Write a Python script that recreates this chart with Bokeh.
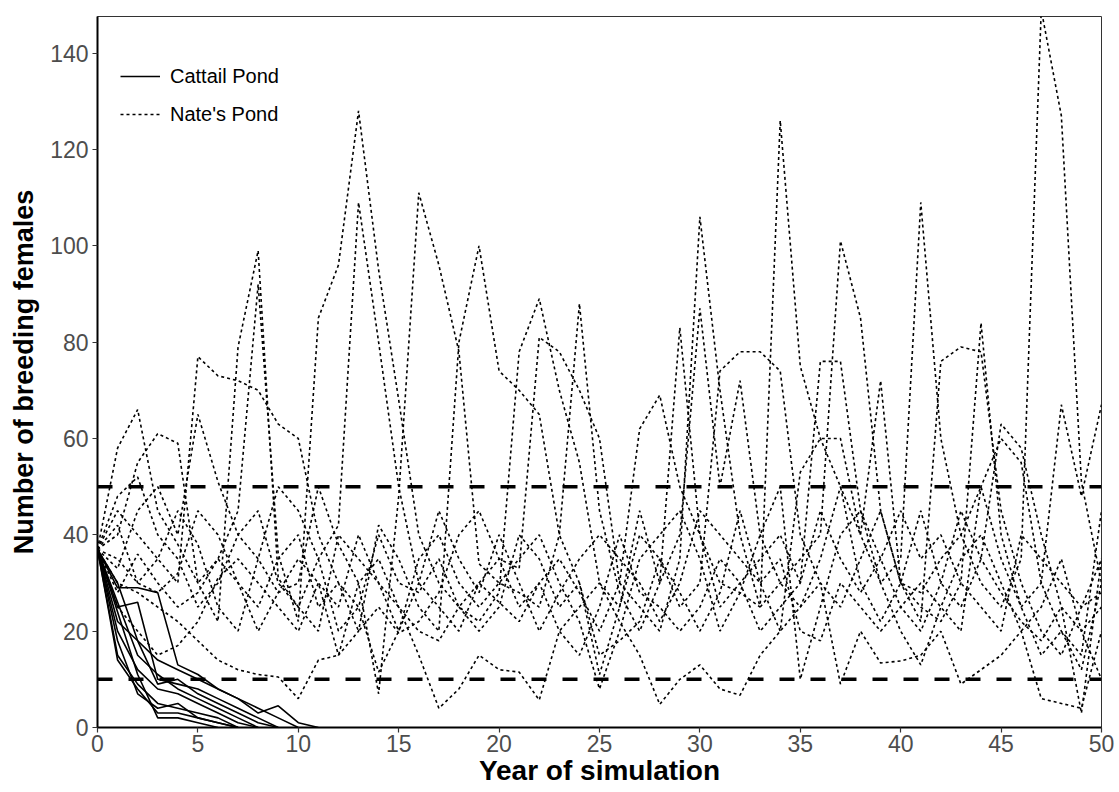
from bokeh.plotting import figure
from bokeh.models import ColumnDataSource, Legend, LegendItem, Span, FixedTicker, Range1d
from bokeh.embed import file_html
from bokeh.resources import INLINE

# ---------------- data ----------------
years = list(range(51))

# Cattail Pond runs (decline to extinction)
C1 = [37, 29, 29, 28, 13, 11, 8, 6, 4, 2, 0]
C2 = [37, 25, 26, 10, 9, 8, 6, 4, 2, 0]
C3 = [37, 30, 18, 14, 12, 10, 8, 6, 3, 4.5, 1, 0]
C4 = [37, 22, 18, 9, 10, 7, 5, 3, 1, 0]
C5 = [37, 15, 9, 5, 4, 3, 2, 0]
C6 = [37, 14, 8, 3, 3, 2, 1, 0]
C7 = [37, 20, 12, 8, 7, 5, 3, 1, 0]
C8 = [37, 24, 11, 2, 2, 1, 0]
C9 = [37, 18, 7, 4, 5, 2, 1, 0]
C10 = [37, 26, 15, 11, 8, 6, 4, 2, 0]

# Nate's Pond runs
N1 = [37, 45, 40, 35, 30, 77, 73, 72, 70, 63, 60, 40, 30, 25, 40, 30, 28, 35, 25, 22,
      28, 78, 89, 70, 55, 30, 25, 40, 35, 25, 30, 74, 78, 78, 74, 40, 30, 25, 35, 45,
      30, 22, 76, 79, 78, 45, 30, 20, 15, 25, 35]
N2 = [37, 58, 66, 45, 38, 30, 22, 79, 99, 31, 25, 35, 42, 109, 80, 50, 30, 25, 20, 30,
      35, 33, 81, 78, 70, 60, 30, 25, 20, 35, 106, 70, 40, 25, 30, 35, 40, 101, 85, 45,
      30, 25, 22, 30, 84, 40, 25, 15, 20, 12, 30]
N3 = [37, 40, 55, 61, 59, 30, 35, 45, 92, 36, 22, 85, 96, 128, 95, 68, 40, 30, 25, 30,
      26, 22, 30, 35, 28, 20, 30, 62, 69, 50, 40, 30, 28, 25, 126, 75, 60, 50, 30, 22,
      30, 45, 30, 25, 35, 63, 58, 40, 25, 20, 25]
N4 = [37, 33, 45, 50, 40, 65, 51, 40, 35, 28, 30, 50, 38, 30, 7, 48, 111, 96, 78, 34,
      30, 28, 25, 40, 88, 45, 28, 20, 30, 83, 40, 25, 30, 35, 40, 30, 76, 76, 45, 30,
      35, 109, 60, 40, 30, 25, 35, 149, 127, 51, 30]
N5 = [37, 25, 20, 15, 17, 22, 31, 35, 30, 25, 20, 30, 15, 20, 42, 35, 25, 20, 80, 100,
      74, 70, 65, 40, 30, 11, 25, 45, 30, 40, 87, 50, 72, 40, 30, 25, 35, 50, 40, 72,
      30, 28, 35, 40, 50, 35, 25, 30, 67, 48, 67]
N6 = [37, 30, 28, 25, 22, 18, 14, 12, 11, 10.5, 6, 14, 15, 30, 35, 25, 15, 4, 8, 15,
      12, 11.5, 5.7, 20, 25, 30, 22, 15, 4.8, 10, 13, 8, 6.7, 15, 20, 25, 30, 9, 20, 13.4,
      13.8, 15, 20, 9, 12, 15, 20, 6, 5, 4, 20]
N7 = [37, 48, 52, 40, 35, 25, 30, 40, 45, 30, 25, 20, 40, 35, 30, 20, 35, 40, 30, 25,
      30, 35, 40, 30, 22, 8, 20, 35, 40, 45, 35, 20, 28, 40, 50, 10, 25, 40, 45, 35,
      25, 30, 25, 20, 50, 60, 55, 30, 20, 15, 45]
N8 = [37, 42, 30, 35, 45, 38, 25, 20, 35, 50, 45, 35, 20, 25, 11.5, 20, 30, 45, 35, 28,
      40, 30, 20, 28, 35, 40, 35, 30, 22, 30, 45, 40, 35, 30, 20, 53, 60, 60, 40, 30,
      20, 13, 25, 35, 40, 30, 20, 25, 35, 20, 10]
N9 = [37, 35, 30, 28, 32, 45, 40, 30, 25, 35, 40, 25, 30, 20, 25, 19.6, 22, 28, 40, 45,
      35, 25, 30, 20, 15, 25, 40, 28, 25, 20, 25, 35, 30, 20, 25, 30, 45, 35, 28, 35,
      45, 35, 40, 30, 25, 20, 40, 35, 30, 25, 28]
N10 = [37, 28, 36, 30, 25, 28, 35, 30, 20, 28, 35, 30, 25, 40, 30, 25, 20, 18, 25, 20,
       25, 40, 35, 25, 30, 15, 18, 22, 35, 28, 20, 28, 45, 30, 35, 20, 18, 30, 25, 20,
       25, 20, 30, 45, 35, 28, 22, 18, 25, 3, 35]

cattail_runs = [C1, C2, C3, C4, C5, C6, C7, C8, C9, C10]
nate_runs = [N1, N2, N3, N4, N5, N6, N7, N8, N9, N10]
thresholds = [10, 50]
x_ticks = [0, 5, 10, 15, 20, 25, 30, 35, 40, 45, 50]
y_ticks = [0, 20, 40, 60, 80, 100, 120, 140]

# ---------------- figure ----------------
FONT = "Liberation Sans"
p = figure(width=1119, height=792, output_backend="svg", toolbar_location=None,
           x_range=Range1d(0, 50), y_range=Range1d(0, 147.6),
           min_border_left=97, min_border_right=18, min_border_top=16, min_border_bottom=65)
p.xgrid.visible = False
p.ygrid.visible = False
p.outline_line_color = "#333333"
p.outline_line_width = 1
p.background_fill_color = "white"
p.border_fill_color = "white"

cat_src = ColumnDataSource(dict(xs=[years[:len(r)] for r in cattail_runs], ys=cattail_runs))
nat_src = ColumnDataSource(dict(xs=[years[:len(r)] for r in nate_runs], ys=nate_runs))

r_nat = p.multi_line("xs", "ys", source=nat_src, line_color="black", line_width=1.6,
                     line_dash="3 3")
r_cat = p.multi_line("xs", "ys", source=cat_src, line_color="black", line_width=1.6)

for t in thresholds:
    p.add_layout(Span(location=t, dimension="width", line_color="black",
                      line_width=3.5, line_dash="15 16"))

for ax in (p.xaxis[0], p.yaxis[0]):
    ax.axis_line_color = "black"
    ax.axis_line_width = 2
    ax.major_tick_line_color = "#333333"
    ax.major_tick_line_width = 1.2
    ax.major_tick_out = 5
    ax.major_tick_in = 0
    ax.minor_tick_line_color = None
    ax.major_label_text_font = FONT
    ax.major_label_text_font_size = "23px"
    ax.major_label_text_color = "#4D4D4D"
    ax.axis_label_text_font = FONT
    ax.axis_label_text_font_size = "28px"
    ax.axis_label_text_font_style = "bold"
    ax.axis_label_text_color = "black"

p.yaxis[0].axis_label_text_font_size = "27px"
p.xaxis[0].ticker = FixedTicker(ticks=x_ticks)
p.yaxis[0].ticker = FixedTicker(ticks=y_ticks)
p.xaxis[0].axis_label = "Year of simulation"
p.yaxis[0].axis_label = "Number of breeding females"
p.xaxis[0].major_label_standoff = 2
p.xaxis[0].axis_label_standoff = 0
p.yaxis[0].major_label_standoff = 4
p.yaxis[0].axis_label_standoff = 8

legend = Legend(items=[LegendItem(label="Cattail Pond", renderers=[r_cat]),
                       LegendItem(label="Nate's Pond", renderers=[r_nat])],
                location=(23, 598), orientation="vertical")
legend.background_fill_alpha = 0
legend.border_line_color = None
legend.label_text_font = FONT
legend.label_text_font_size = "20px"
legend.label_text_color = "black"
legend.glyph_width = 40
legend.glyph_height = 30
legend.spacing = 8
legend.padding = 10
legend.margin = 0
legend.label_standoff = 10
p.add_layout(legend, "center")

open("out.html", "w").write(file_html(p, INLINE))
